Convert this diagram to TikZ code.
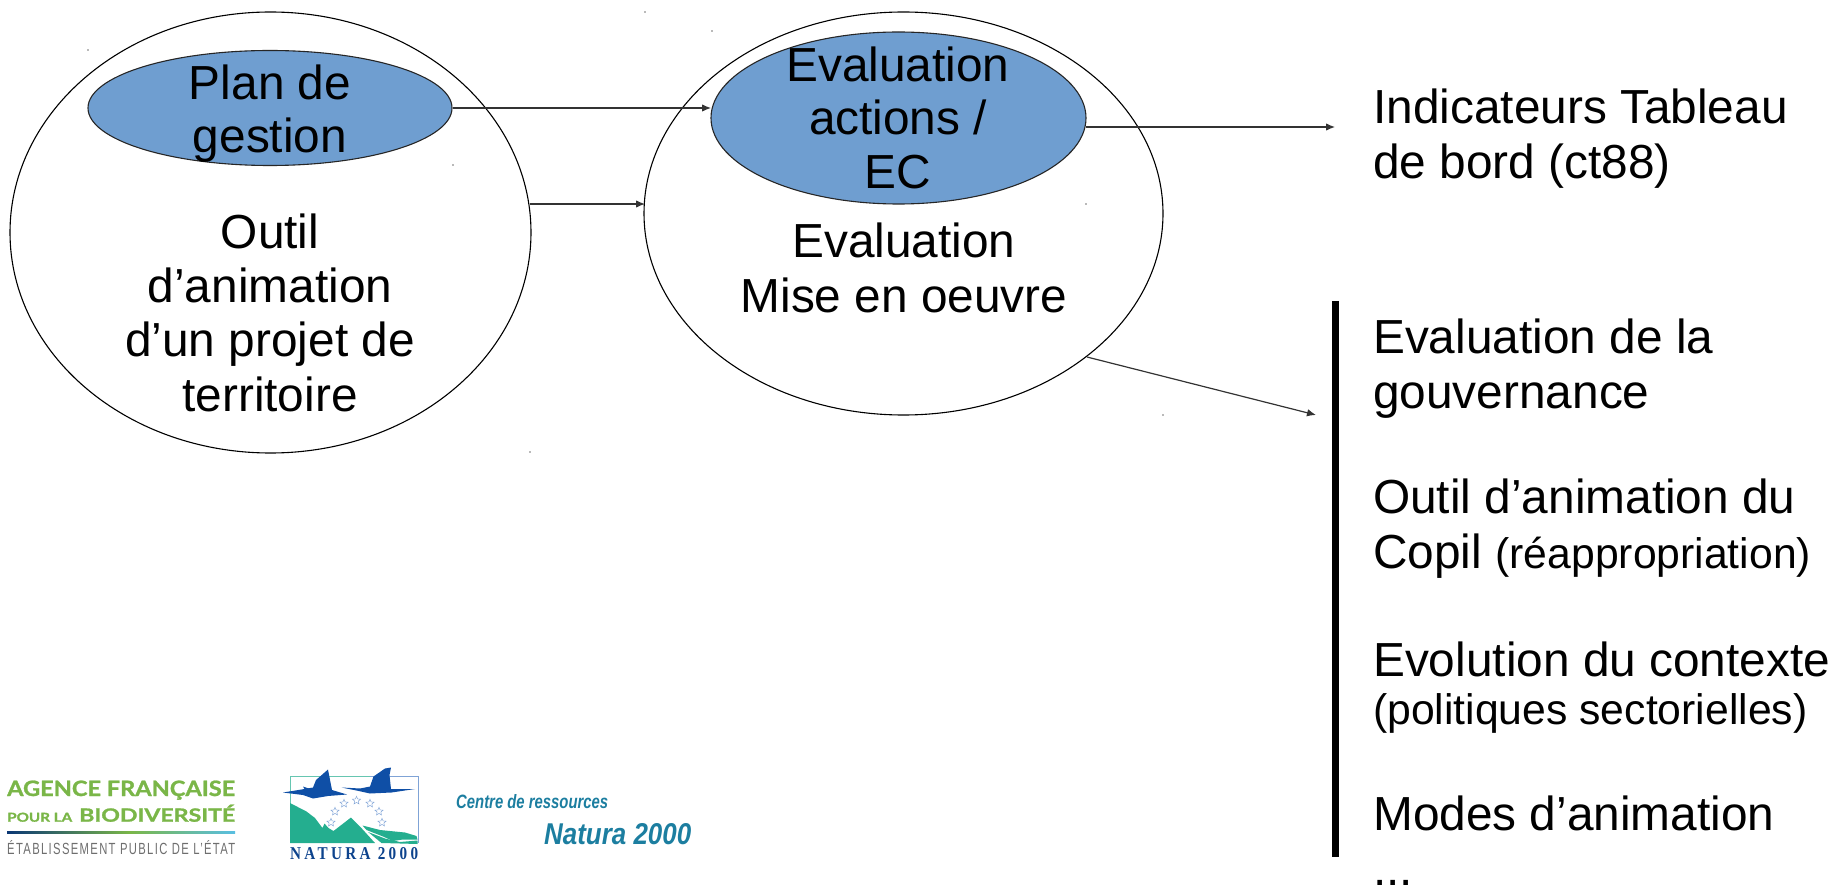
\documentclass[tikz,border=0pt]{standalone}
\usepackage{fontspec}
\usepackage{graphicx}
\setmainfont{Liberation Sans}
\newfontfamily\natfont[LetterSpace=22]{Liberation Serif}
\newfontfamily\lato[BoldFeatures={FakeBold=1.2}]{Lato}
\newfontfamily\etabfont[LetterSpace=12]{Liberation Sans}
\newfontfamily\crfont[BoldFeatures={FakeBold=1.5}]{Liberation Sans}
\usetikzlibrary{shapes.geometric,arrows.meta}
\definecolor{ellblue}{HTML}{6F9ED0}
\definecolor{afbgreen}{HTML}{7AB648}
\definecolor{afbgrey}{HTML}{6E6E6E}
\definecolor{natblue}{HTML}{0F4FA6}
\definecolor{natgreen}{HTML}{24AE8F}
\definecolor{natsky}{HTML}{7FA3D6}
\definecolor{crteal}{HTML}{1C7EA0}
\tikzset{
  x=1pt,y=-1pt,
  outerell/.style={ellipse,draw=black,line width=1.1pt,inner sep=0pt,fill=white},
  innerell/.style={ellipse,draw=black!85,line width=1.1pt,inner sep=0pt,fill=ellblue},
  big/.style={font=\fontsize{47.8}{53.6}\selectfont,align=center,inner sep=0pt,text=black},
  side/.style={font=\fontsize{47.8}{55}\selectfont,align=left,inner sep=0pt,text=black,anchor=base west},
  conn/.style={draw=black!80,line width=1.2pt,-{Latex[length=9pt,width=7.5pt]}},
  speck/.style={circle,fill=black!55,inner sep=0pt,minimum size=1.6pt},
  logo/.style={inner sep=0pt,anchor=base west},
  nstar/.style={star,star points=5,star point ratio=2.2,draw=natsky,line width=.45pt,inner sep=0pt,minimum size=8.5pt},
}
\newcommand{\smalltxt}[1]{{\fontsize{42.7}{55}\selectfont #1}}
\begin{document}
\begin{tikzpicture}
\useasboundingbox (0,0) rectangle (1837,885);
% ellipses
\node[outerell,minimum width=521pt,minimum height=441pt] (e1) at (270.5,232.5) {};
\node[outerell,minimum width=519pt,minimum height=403pt] (e2) at (903.5,213.5) {};
\node[innerell,minimum width=364pt,minimum height=115pt] (p1) at (270,108) {};
\node[innerell,minimum width=375pt,minimum height=172pt] (p2) at (898.5,118) {};
% specks
\foreach \i/\p in {a/{88,50},b/{453,165},c/{645,12},d/{712,31},f/{1086,204},g/{1163,415},h/{530,452}}
  \node[speck] (sp\i) at (\p) {};
% text
\node[big,anchor=base,font=\fontsize{47.8}{53}\selectfont] (t1) at (270,153) {Plan de\\gestion};
\node[big,anchor=base,font=\fontsize{47.8}{54.3}\selectfont] (t2) at (270,411) {Outil\\d’animation\\d’un projet de\\territoire};
\node[big,anchor=base] (t3) at (898,188.5) {Evaluation\\actions /\\EC};
\node[big,anchor=base,font=\fontsize{47.8}{55}\selectfont] (t4) at (904,313) {Evaluation\\Mise en oeuvre};
\node[side] (r1) at (1373,179) {Indicateurs Tableau\\de bord (ct88)};
\node[side] (r2) at (1373,408) {Evaluation de la\\gouvernance};
\node[side] (r3) at (1373,568) {Outil d’animation du\\Copil \smalltxt{(réappropriation)}};
\node[side] (r4) at (1373,724) {Evolution du contexte\\[-7pt]\smalltxt{(politiques sectorielles)}};
\node[side] (r5) at (1373,885) {Modes d’animation\\...};
% bar
\coordinate (bt) at (1335.5,301);
\coordinate (bb) at (1335.5,857);
\draw[line width=7.5pt,black] (bt) -- (bb);
% connectors
\coordinate (a3e) at (1335,127);
\coordinate (a3s) at (1086,127);
\coordinate (a4e) at (1316,415);
\coordinate (a4s) at (1087,357);
\coordinate (a2s) at (530,204);
\coordinate (a2e) at (645,204);
\coordinate (a1e) at (711,108);
\draw[conn] (p1.east) -- (a1e);
\draw[conn] (a2s) -- (a2e);
\draw[conn] (a3s) -- (a3e);
\draw[conn] (a4s) -- (a4e);
% AFB logo
\node[logo,text=afbgreen] (afb1) at (7,796) {\resizebox{228pt}{15.5pt}{\lato\bfseries AGENCE FRANÇAISE}};
\node[logo,text=afbgreen] (afb2) at (7,821.7) {\resizebox{65pt}{9pt}{\lato\bfseries POUR LA}};
\node[logo,text=afbgreen] (afb3) at (79,821.7) {\resizebox{156pt}{17pt}{\lato\bfseries BIODIVERSITÉ}};
\shade[left color=natblue!70!black,right color=afbgreen] (7,831) rectangle (130,833.5);
\shade[left color=afbgreen,right color=natsky!70!cyan] (130,831) rectangle (235,833.5);
\node[logo,text=afbgrey] (afb4) at (7,854) {\resizebox{228pt}{14pt}{\etabfont ÉTABLISSEMENT PUBLIC DE L’ÉTAT}};
% Natura 2000 logo
\draw[natgreen!70,line width=.9pt] (290,826) -- (290,776) -- (370,776);
\draw[natsky,line width=.9pt] (370,776) -- (418.5,776) -- (418.5,843);
\fill[natgreen] (290,803) -- (306.5,811.5) -- (315,818) -- (322.5,828) -- (324.5,823.5) -- (328.5,828) -- (333.5,831) -- (351,817.5) -- (360,826.5) -- (375,843) -- (290,843) -- cycle;
\fill[natgreen] (362.5,825.5) -- (380,830) -- (395,831.5) -- (405,832.5) -- (416.5,836) -- (417.5,839.5) -- (403,839.5) -- (393,841) -- (383,836.5) -- (366.5,830) -- cycle;
\fill[natgreen] (368,832) -- (385,838.5) -- (400,842) -- (417.5,840.5) -- (417.5,844) -- (400,843.5) -- (381.5,843) -- (370,833.5) -- cycle;
\fill[natblue] (283,792.5) -- (301.5,789.5) -- (313,787.5) -- (316,780) -- (328,769.5) -- (332,790) -- (347,794.5) -- (328,796) -- (313,798.5) -- (303,795) -- cycle;
\fill[natblue] (303,786.5) -- (312,789.5) -- (305,790) -- cycle;
\fill[natblue] (341.5,787.5) -- (360,788.5) -- (370,786.5) -- (373.5,776.5) -- (385,768.5) -- (391,767.5) -- (389.5,775) -- (391,789) -- (415,789) -- (391.5,792.5) -- (370,793.5) -- (356.5,790.5) -- cycle;
\foreach \i/\p in {1/{335,811.5},2/{344,803.5},3/{356.5,800.5},4/{370,803.5},5/{379,811.5},6/{382,822.5},7/{331,822.5}}
  \node[nstar] (st\i) at (\p) {};
\node[logo,text=natblue!85!black] (nat) at (290,859) {\resizebox{128pt}{12pt}{\natfont\bfseries NATURA 2000}};
% Centre de ressources
\node[logo,text=crteal] (cr1) at (456,808) {\resizebox{152pt}{14pt}{\crfont\bfseries\itshape Centre de ressources}};
\node[logo,text=crteal] (cr2) at (544,844) {\resizebox{147pt}{21pt}{\crfont\bfseries\itshape Natura 2000}};
\end{tikzpicture}
\end{document}
